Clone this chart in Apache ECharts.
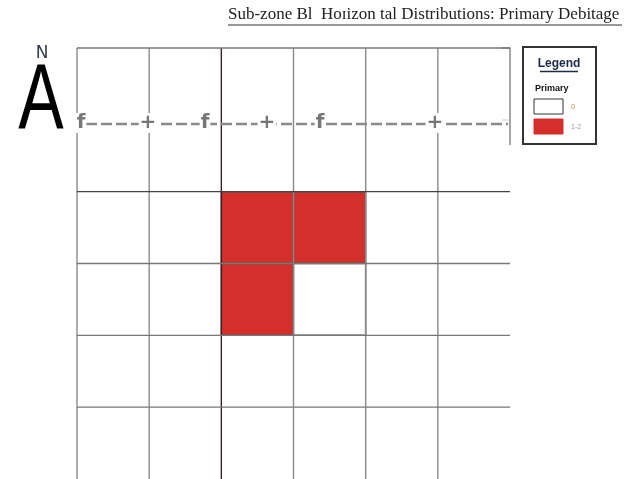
<!DOCTYPE html>
<html>
<head>
<meta charset="utf-8">
<script src="https://cdn.jsdelivr.net/npm/echarts@6/dist/echarts.min.js"></script>
<style>
  html, body { margin: 0; padding: 0; background: #fff; }
  #chart { width: 629px; height: 479px; }
</style>
</head>
<body>
<div id="chart"></div>
<script>
// 网格线位置（单位：格）
const colEdges = [0, 1, 2, 3, 4, 5]
const rowEdges = [0, 2, 3, 4, 5]
// 单元格：[列, 行顶, 数量]
const cells = [
  [2, 2, 2],
  [3, 2, 1],
  [2, 3, 1],
  [3, 3, 0]
]
// 图例
const legendLabels = ['0', '1-2']
const legendColors = ['#ffffff', '#d42f2a']

const myChart = echarts.init(document.querySelector('#chart'))

// 虚线上的记号
const marks = [
  { t: 'f', x: 81 },
  { t: '+', x: 148 },
  { t: 'f', x: 205 },
  { t: '+', x: 267 },
  { t: 'f', x: 320 },
  { t: '+', x: 435 }
]

const option = {
  animation: false,
  grid: { left: 77, top: 48, width: 433, height: 432 },
  xAxis: {
    type: 'value', min: 0, max: 6, interval: 1,
    show: false
  },
  yAxis: {
    type: 'value', min: 0, max: 6, interval: 1, inverse: true,
    show: false
  },
  series: [
    // 单元格
    {
      type: 'custom',
      z: 2,
      data: cells,
      renderItem: function (params, api) {
        const p0 = api.coord([api.value(0), api.value(1)])
        const p1 = api.coord([api.value(0) + 1, api.value(1) + 1])
        const n = api.value(2)
        return {
          type: 'rect',
          shape: { x: p0[0], y: p0[1], width: p1[0] - p0[0], height: p1[1] - p0[1] },
          style: {
            fill: n > 0 ? legendColors[1] : legendColors[0],
            stroke: '#555',
            lineWidth: 1.5
          }
        }
      }
    },
    // 竖线
    {
      type: 'custom',
      z: 3,
      data: colEdges,
      renderItem: function (params, api) {
        const x = api.value(0)
        const a = api.coord([x, 0])
        const b = api.coord([x, 6])
        return {
          type: 'line',
          shape: { x1: a[0], y1: a[1], x2: b[0], y2: b[1] },
          style: { stroke: x === 2 ? '#3a2222' : '#8a8a8a', lineWidth: 1.4 }
        }
      }
    },
    // 横线
    {
      type: 'custom',
      z: 3,
      data: rowEdges,
      renderItem: function (params, api) {
        const y = api.value(0)
        const a = api.coord([0, y])
        const b = api.coord([6, y])
        return {
          type: 'line',
          shape: { x1: a[0], y1: a[1], x2: b[0], y2: b[1] },
          style: { stroke: y === 2 ? '#444' : '#777', lineWidth: 1.4 }
        }
      }
    }
  ],
  graphic: [
    // 标题
    {
      type: 'text', left: 228, top: 6,
      style: {
        text: 'Sub-zone Bl  Hoɪizon tal Distributions: Primary Debitage',
        font: '17px "Liberation Serif"', fill: '#222'
      }
    },
    { type: 'line', shape: { x1: 228, y1: 25, x2: 622, y2: 25 }, style: { stroke: '#333', lineWidth: 1 } },
    // 北箭头
    {
      type: 'text', x: 42, y: 54,
      style: { text: 'N', font: '17px "DejaVu Sans"', fill: '#333d4a', align: 'center', verticalAlign: 'middle' }
    },
    {
      type: 'text', x: 41, y: 104, scaleX: 0.74,
      style: { text: 'A', font: '92px "Liberation Sans"', fill: '#000', align: 'center', verticalAlign: 'middle' }
    },
    // 右上角括号
    { type: 'polyline', shape: { points: [[502, 48], [510, 48], [510, 145]] }, style: { stroke: '#888', lineWidth: 1.5, fill: null } },
    { type: 'line', shape: { x1: 502, y1: 120, x2: 510, y2: 120 }, style: { stroke: '#ccc', lineWidth: 1 } },
    // 虚线
    { type: 'line', z: 5, shape: { x1: 86, y1: 124, x2: 508, y2: 124 }, style: { stroke: '#8a8a8a', lineWidth: 2.5, lineDash: [11, 4] } }
  ].concat(marks.map(m => ({
    type: 'text', z: 6, x: m.x, y: 123,
    style: {
      text: m.t, font: 'bold 20px "DejaVu Sans"', fill: '#777',
      align: 'center', verticalAlign: 'middle',
      backgroundColor: '#fff', padding: [0, 1]
    }
  }))).concat([
    // 图例
    { type: 'rect', shape: { x: 523, y: 47, width: 73, height: 97 }, style: { fill: '#fff', stroke: '#333', lineWidth: 2 } },
    {
      type: 'text', x: 559, y: 64,
      style: { text: 'Legend', font: 'bold 12px "Liberation Sans"', fill: '#1c2a48', align: 'center', verticalAlign: 'middle' }
    },
    { type: 'line', shape: { x1: 540, y1: 71.5, x2: 578, y2: 71.5 }, style: { stroke: '#1c2a48', lineWidth: 1.5 } },
    {
      type: 'text', x: 535, y: 89,
      style: { text: 'Primary', font: 'bold 9px "Liberation Sans"', fill: '#111', verticalAlign: 'middle' }
    }
  ]).concat(legendLabels.map((lab, i) => ({
    type: 'group',
    children: [
      { type: 'rect', shape: { x: 534, y: 99 + i * 20, width: 29, height: 15 }, style: { fill: legendColors[i], stroke: i === 0 ? '#333' : legendColors[i], lineWidth: 1 } },
      { type: 'text', x: 571, y: 107 + i * 20, style: { text: lab, font: '7px "Liberation Sans"', fill: i === 0 ? '#c08a40' : '#999', verticalAlign: 'middle' } }
    ]
  })))
}

myChart.setOption(option)
</script>
</body>
</html>
